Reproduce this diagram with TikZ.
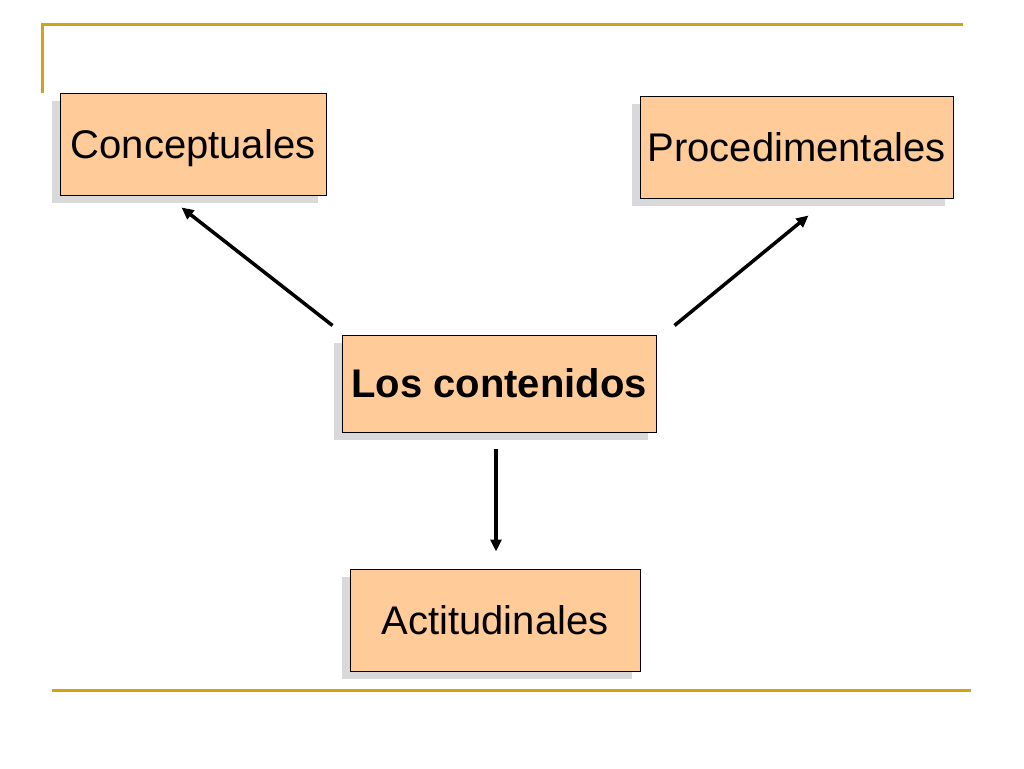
\documentclass[tikz,border=0pt]{standalone}
\usepackage{fontspec}
\setmainfont{Liberation Sans}
\usetikzlibrary{arrows.meta}
\usetikzlibrary{shadows}

\definecolor{peach}{RGB}{255,204,153}
\definecolor{gold}{RGB}{209,163,24}
\definecolor{shade}{RGB}{217,217,220}

\tikzset{
  box/.style={draw, line width=1pt, fill=peach, inner sep=0pt, text depth=0pt,
    font=\fontsize{40}{46}\selectfont,
    drop shadow={shadow xshift=-8pt, shadow yshift=-8pt, fill=shade, opacity=1}},
  arr/.style={-{Triangle[length=12pt,width=11pt]}, line width=3.5pt},
  rule/.style={gold, line width=3pt}
}

\begin{document}
\begin{tikzpicture}[x=1pt, y=-1pt]
  \useasboundingbox (0,0) rectangle (1024,768);

  % frame lines
  \draw [rule] (42,93) -- (42,25) -- (963,25);
  \draw [rule] (52,690) -- (971,690);

  \node (conc) [box, minimum width=266pt, minimum height=102pt] at (193,144) {Conceptuales};
  \node (proc) [box, minimum width=313pt, minimum height=102pt] at (796.5,147) {Procedimentales};
  \node (cont) [box, minimum width=314pt, minimum height=97pt] at (499,383.5) {\bfseries Los contenidos};
  \node (act) [box, minimum width=290pt, minimum height=102pt] at (495,620) {Actitudinales};

  \draw [arr] ([shift={(-9,-9)}]cont.north west) -- ([shift={(122,12)}]conc.south west);
  \draw [arr] ([shift={(18,-9)}]cont.north east) -- ([shift={(169,17)}]proc.south west);
  \draw [arr] ([shift={(-3,16)}]cont.south) -- ([shift={(1,-17)}]act.north);
\end{tikzpicture}
\end{document}
